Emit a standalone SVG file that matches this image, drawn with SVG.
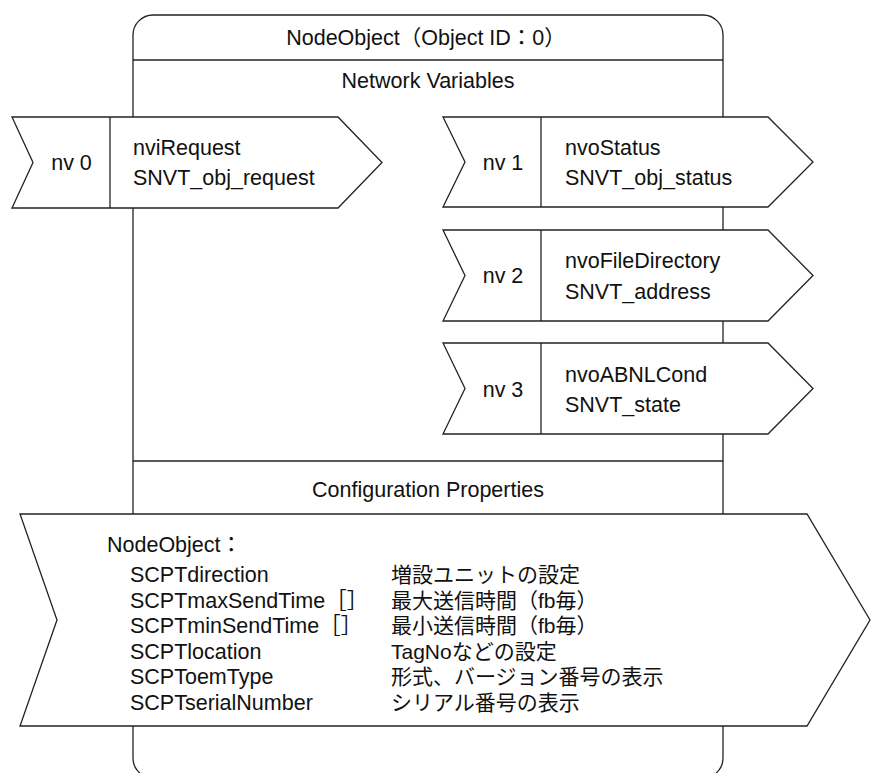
<svg xmlns="http://www.w3.org/2000/svg" width="871" height="773" viewBox="0 0 871 773">
<style>
.ln{fill:none;stroke:#222;stroke-width:1.3}
.sh{fill:#fff;stroke:#222;stroke-width:1.3;stroke-linejoin:miter}
text{font-family:"Liberation Sans","Noto Sans CJK JP",sans-serif;font-size:21.5px;fill:#111}
.c{text-anchor:middle}
.jp{font-size:21px}
</style>
<rect width="871" height="773" fill="#fff"/>
<g id="frame">
<rect class="ln" x="133" y="15" width="590" height="763" rx="20" ry="20"/>
<line class="ln" x1="133" y1="60" x2="723" y2="60"/>
<line class="ln" x1="133" y1="461" x2="723" y2="461"/>
<text class="c" x="426" y="45">NodeObject（Object ID：0）</text>
<text class="c" x="428" y="88">Network Variables</text>
<text class="c" x="428" y="497">Configuration Properties</text>
</g>
<g id="connectors"></g>
<g id="nv0">
<polygon class="sh" points="12,117 338,117 382,162.5 338,208 12,208 33,162.5"/>
<line class="ln" x1="110" y1="117" x2="110" y2="208"/>
<text class="c" x="71.5" y="170">nv 0</text>
<text x="133" y="155">nviRequest</text>
<text x="133" y="185">SNVT_obj_request</text>
</g>
<g id="nv1">
<polygon class="sh" points="443,117 768,117 813,162 768,207 443,207 465,162"/>
<line class="ln" x1="541" y1="117" x2="541" y2="207"/>
<text class="c" x="503" y="170">nv 1</text>
<text x="565" y="155">nvoStatus</text>
<text x="565" y="185">SNVT_obj_status</text>
</g>
<g id="nv2">
<polygon class="sh" points="443,230 768,230 813,275.5 768,321 443,321 465,275.5"/>
<line class="ln" x1="541" y1="230" x2="541" y2="321"/>
<text class="c" x="503" y="283">nv 2</text>
<text x="565" y="268">nvoFileDirectory</text>
<text x="565" y="299">SNVT_address</text>
</g>
<g id="nv3">
<polygon class="sh" points="443,343 768,343 813,388.5 768,434 443,434 465,388.5"/>
<line class="ln" x1="541" y1="343" x2="541" y2="434"/>
<text class="c" x="503" y="397">nv 3</text>
<text x="565" y="382">nvoABNLCond</text>
<text x="565" y="412">SNVT_state</text>
</g>
<g id="config">
<polygon class="sh" points="20,514 807,514 870,620 807,726 20,726 57,620"/>
<text x="107" y="552">NodeObject：</text>
<text x="130" y="582">SCPTdirection</text>
<text x="130" y="607.5">SCPTmaxSendTime［］</text>
<text x="130" y="633">SCPTminSendTime［］</text>
<text x="130" y="658.5">SCPTlocation</text>
<text x="130" y="684">SCPToemType</text>
<text x="130" y="709.5">SCPTserialNumber</text>
<text class="jp" x="391" y="582">増設ユニットの設定</text>
<text class="jp" x="391" y="607.5">最大送信時間（fb毎）</text>
<text class="jp" x="391" y="633">最小送信時間（fb毎）</text>
<text class="jp" x="391" y="658.5">TagNoなどの設定</text>
<text class="jp" x="391" y="684">形式、バージョン番号の表示</text>
<text class="jp" x="391" y="709.5">シリアル番号の表示</text>
</g>
</svg>
